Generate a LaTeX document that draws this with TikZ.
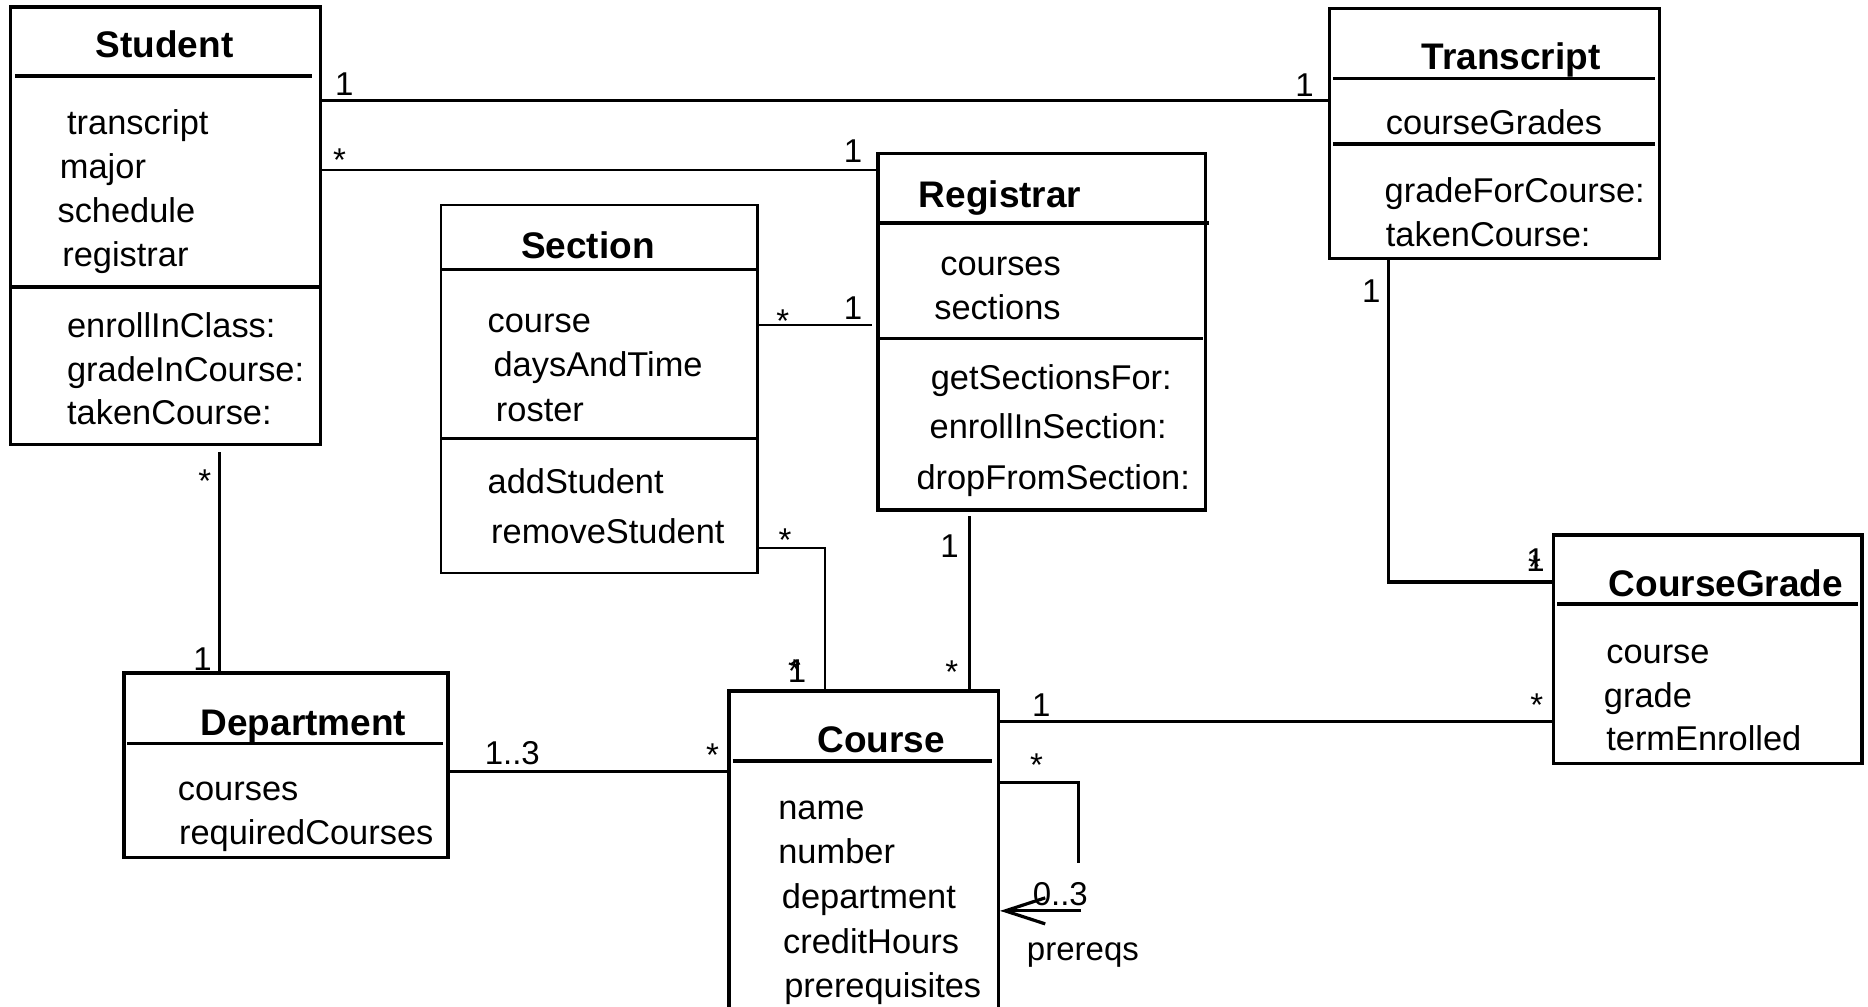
\documentclass[tikz,border=0pt]{standalone}
\usepackage{fontspec}
\setmainfont{Liberation Sans}
\usetikzlibrary{calc,fit,arrows.meta}

\begin{document}
\begin{tikzpicture}[x=0.5957pt,y=-0.5957pt,
  cls/.style={draw, line width=1.7pt, inner sep=0pt},
  thincls/.style={cls, line width=1.2pt},
  sepline/.style={line width=1.8pt},
  clsname/.style={anchor=base west, inner sep=0pt, font=\fontsize{18.5pt}{20pt}\selectfont\bfseries},
  attr/.style={anchor=base west, inner sep=0pt, font=\fontsize{17.2pt}{20pt}\selectfont},
  mult/.style={anchor=base, inner sep=0pt, font=\fontsize{16.5pt}{18pt}\selectfont},
  assoc/.style={line width=1.6pt},
  thinassoc/.style={line width=1.0pt}]

\clip (0,0) rectangle (1568,845);

% ---------- classes ----------
\node[cls, fit={(9,6) (269,373)}] (student) {};
\draw[sepline] (13,64) -- (262,64);
\draw[sepline] (9,241) -- (269,241);
\node[clsname] at (80,48) {Student};
\node[attr] at (56,113) {transcript};
\node[attr] at (50,150) {major};
\node[attr] at (48,187) {schedule};
\node[attr] at (52,224) {registrar};
\node[attr] at (56,283) {enrollInClass:};
\node[attr] at (56,320) {gradeInCourse:};
\node[attr] at (56,356) {takenCourse:};

\node[cls, fit={(1116,7) (1393,217)}] (transcript) {};
\draw[sepline] (1119,66) -- (1389,66);
\draw[sepline] (1119,121) -- (1389,121);
\node[clsname] at (1193,58) {Transcript};
\node[attr] at (1163,113) {courseGrades};
\node[attr] at (1162,170) {gradeForCourse:};
\node[attr] at (1163,207) {takenCourse:};

\node[cls, fit={(737,129) (1012,428)}] (registrar) {};
\draw[sepline] (737,187) -- (1015,187);
\draw[sepline] (737,284) -- (1010,284);
\node[clsname] at (771,174) {Registrar};
\node[attr] at (789,231) {courses};
\node[attr] at (784,268) {sections};
\node[attr] at (781,327) {getSectionsFor:};
\node[attr] at (780,368) {enrollInSection:};
\node[attr] at (769,411) {dropFromSection:};

\node[thincls, fit={(370,172) (636,481)}] (section) {};
\draw[line width=1.3pt] (370,226) -- (636,226);
\draw[line width=1.3pt] (370,368) -- (636,368);
\node[clsname] at (437,217) {Section};
\node[attr] at (409,279) {course};
\node[attr] at (414,316) {daysAndTime};
\node[attr] at (416,354) {roster};
\node[attr] at (409,414) {addStudent};
\node[attr] at (412,456) {removeStudent};

\node[cls, fit={(104,565) (376,720)}] (department) {};
\draw[sepline] (107,624) -- (372,624);
\node[clsname] at (168,617) {Department};
\node[attr] at (149,672) {courses};
\node[attr] at (150,709) {requiredCourses};

\node[cls, fit={(612,580) (838,880)}] (course) {};
\draw[sepline] (615,639) -- (833,639);
\node[clsname] at (686,632) {Course};
\node[attr] at (653,688) {name};
\node[attr] at (653,725) {number};
\node[attr] at (656,763) {department};
\node[attr] at (657,800) {creditHours};
\node[attr] at (658,837) {prerequisites};

\node[cls, fit={(1304,449) (1563,641)}] (coursegrade) {};
\draw[sepline] (1307,507) -- (1560,507);
\node[clsname] at (1350,501) {CourseGrade};
\node[attr] at (1348,557) {course};
\node[attr] at (1346,594) {grade};
\node[attr] at (1348,630) {termEnrolled};

% ---------- associations ----------
\draw[assoc] ($(student.north east)+(0,80)$) coordinate (st) -- (st -| transcript.west);
\draw[thinassoc] ($(student.north east)+(0,138)$) coordinate (sr) -- (sr -| registrar.west);
\draw[thinassoc] ($(section.north east)+(0,102)$) coordinate (sg) -- ($(sg -| registrar.west)+(-4,0)$);
\draw[thinassoc, line width=1.2pt] ($(section.north east)+(0,289)$) -| ($(course.north west)+(82,0)$);
\draw[assoc] ($(registrar.south west)+(78,4)$) coordinate (rc) -- (rc |- course.north);
\draw[assoc] ($(student.south west)+(177,5)$) coordinate (sd) -- (sd |- department.north);
\draw[assoc] ($(department.north east)+(0,84)$) coordinate (dc) -- (dc -| course.west);
\draw[assoc] ($(transcript.south west)+(51,0)$) |- ($(coursegrade.north west)+(0,41)$);
\draw[assoc] ($(course.north east)+(0,27)$) coordinate (cg) -- (cg -| coursegrade.west);
% prerequisites (self association)
\draw[assoc] ($(course.north east)+(0,78)$) -- ++(66,0) -- ++(0,68);
\draw[assoc, -{Straight Barb[length=20pt, width=13pt]}]
  ($(course.north east)+(68,186)$) coordinate (pq) -- (pq -| course.east);

% ---------- multiplicities ----------
\node[mult] at (289,80) {1};
\node[mult] at (1095,81) {1};
\node[mult] at (285,144) {*};
\node[mult] at (716,136) {1};
\node[mult] at (657,279) {*};
\node[mult] at (716,268) {1};
\node[mult] at (659,463) {*};
\node[mult] at (669,573) {1};
\node[mult] at (667,573) {*};
\node[mult] at (797,468) {1};
\node[mult] at (799,574) {*};
\node[mult] at (172,413) {*};
\node[mult] at (170,563) {1};
\node[mult] at (430,642) {1..3};
\node[mult] at (598,643) {*};
\node[mult] at (1151,254) {1};
\node[mult] at (1289,480) {1};
\node[mult] at (1288,486) {*};
\node[mult] at (874,601) {1};
\node[mult] at (1290,601) {*};
\node[mult] at (870,652) {*};
\node[mult] at (890,760) {0..3};
\node[mult] at (909,806) {prereqs};

\end{tikzpicture}
\end{document}
